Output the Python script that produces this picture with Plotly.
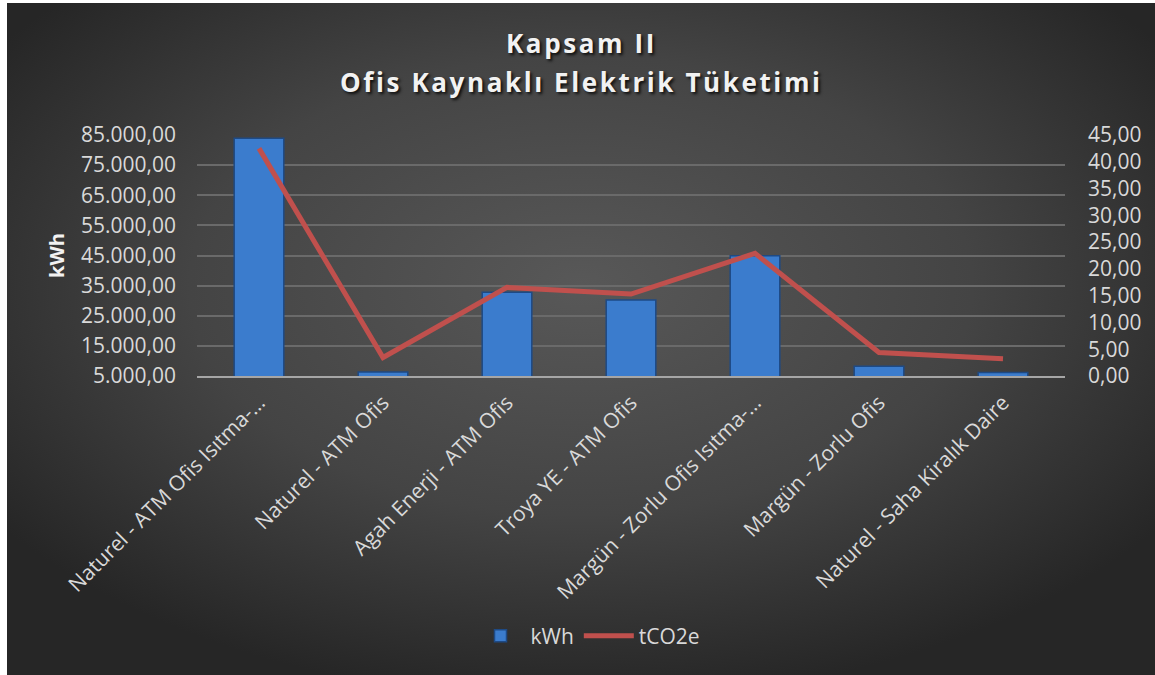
import base64
import plotly.graph_objects as go

categories = [
    "Naturel - ATM Ofis Isıtma-…",
    "Naturel - ATM Ofis",
    "Agah Enerji - ATM Ofis",
    "Troya YE - ATM Ofis",
    "Margün - Zorlu Ofis Isıtma-…",
    "Margün - Zorlu Ofis",
    "Naturel - Saha Kiralık Daire",
]
kwh = [83900, 6300, 32800, 30200, 44900, 8200, 6200]
tco2e = [42.5, 3.45, 16.55, 15.3, 22.9, 4.4, 3.2]
title_lines = ["Kapsam II", "Ofis Kaynaklı Elektrik Tüketimi"]

W, H = 1155, 675
L, R, T, B = 197, 90, 135, 299
pw, ph = W - L - R, H - T - B

def px_x(x):
    return (x - L) / pw

def px_y(y):
    return (H - B - y) / ph

svg = (
    "<svg xmlns='http://www.w3.org/2000/svg' width='1148' height='672' viewBox='0 0 1148 672' preserveAspectRatio='none'>"
    "<defs><radialGradient id='g' cx='50%' cy='42%' r='62%'>"
    "<stop offset='0' stop-color='#585858'/><stop offset='0.55' stop-color='#444444'/>"
    "<stop offset='1' stop-color='#262626'/></radialGradient></defs>"
    "<rect width='1148' height='672' fill='url(#g)'/></svg>"
)
bg_src = "data:image/svg+xml;base64," + base64.b64encode(svg.encode()).decode()

def spaced(s):
    return "\u200a".join(list(s))

FONT = "Open Sans, Lato, sans-serif"

fig = go.Figure()
fig.add_trace(go.Bar(
    x=categories, y=kwh, name="kWh",
    marker=dict(color="#3B7CCD", line=dict(color="#1E4A85", width=1.5)),
    width=0.4,
))
fig.add_trace(go.Scatter(
    x=categories, y=tco2e, name="tCO2e", yaxis="y2", mode="lines",
    line=dict(color="#C0504D", width=5),
))

tickfont = dict(family=FONT, size=21, color="#D9D9D9")
title_font = dict(family=FONT, size=26, color="#F2F2F2", shadow="2px 2px 3px rgba(0,0,0,0.8)")

fig.update_layout(
    width=W, height=H,
    margin=dict(l=L, r=R, t=T, b=B),
    paper_bgcolor="white",
    plot_bgcolor="rgba(0,0,0,0)",
    separators=",.",
    showlegend=True,
    annotations=[
        dict(text="<b>" + spaced(title_lines[0]) + "</b>", x=px_x(580), y=px_y(43),
             xref="paper", yref="paper", xanchor="center", yanchor="middle",
             showarrow=False, font=title_font),
        dict(text="<b>" + spaced(title_lines[1]) + "</b>", x=px_x(580), y=px_y(82),
             xref="paper", yref="paper", xanchor="center", yanchor="middle",
             showarrow=False, font=title_font),
    ],
    images=[dict(
        source=bg_src, xref="paper", yref="paper",
        x=(7 - L) / pw, y=(H - B - 3) / ph,
        sizex=(W - 7) / pw, sizey=(H - 3) / ph,
        sizing="stretch", xanchor="left", yanchor="top", layer="below",
    )],
    xaxis=dict(
        tickangle=-45, tickfont=dict(family=FONT, size=21, color="#D9D9D9"),
        showgrid=False, showline=True, linecolor="#A6A6A6", linewidth=2,
        ticks="", ticklabelstandoff=4,
    ),
    yaxis=dict(
        range=[5000, 85000], tick0=5000, dtick=10000, tickformat=",.2f",
        tickfont=tickfont, showgrid=True, gridcolor="#6A6A6A", gridwidth=1.5,
        zeroline=False, showline=False, ticks="", ticklabelstandoff=20,
        title=dict(text="<b>kWh</b>", font=dict(family=FONT, size=20, color="#F2F2F2"),
                   standoff=10),
    ),
    yaxis2=dict(
        range=[0, 45], tick0=0, dtick=5, tickformat=".2f", overlaying="y", side="right",
        tickfont=tickfont, showgrid=False, zeroline=False, showline=False, ticks="",
        ticklabelstandoff=22,
    ),
    legend=dict(
        orientation="h", x=px_x(588), xanchor="center",
        y=px_y(636), yanchor="middle", itemwidth=50,
        font=dict(family=FONT, size=21, color="#D9D9D9"),
        bgcolor="rgba(0,0,0,0)",
    ),
)

fig.write_html(
    "out.html",
    config={"displayModeBar": False},
    post_script="document.body.style.margin='0px';document.body.style.overflow='hidden';",
)
